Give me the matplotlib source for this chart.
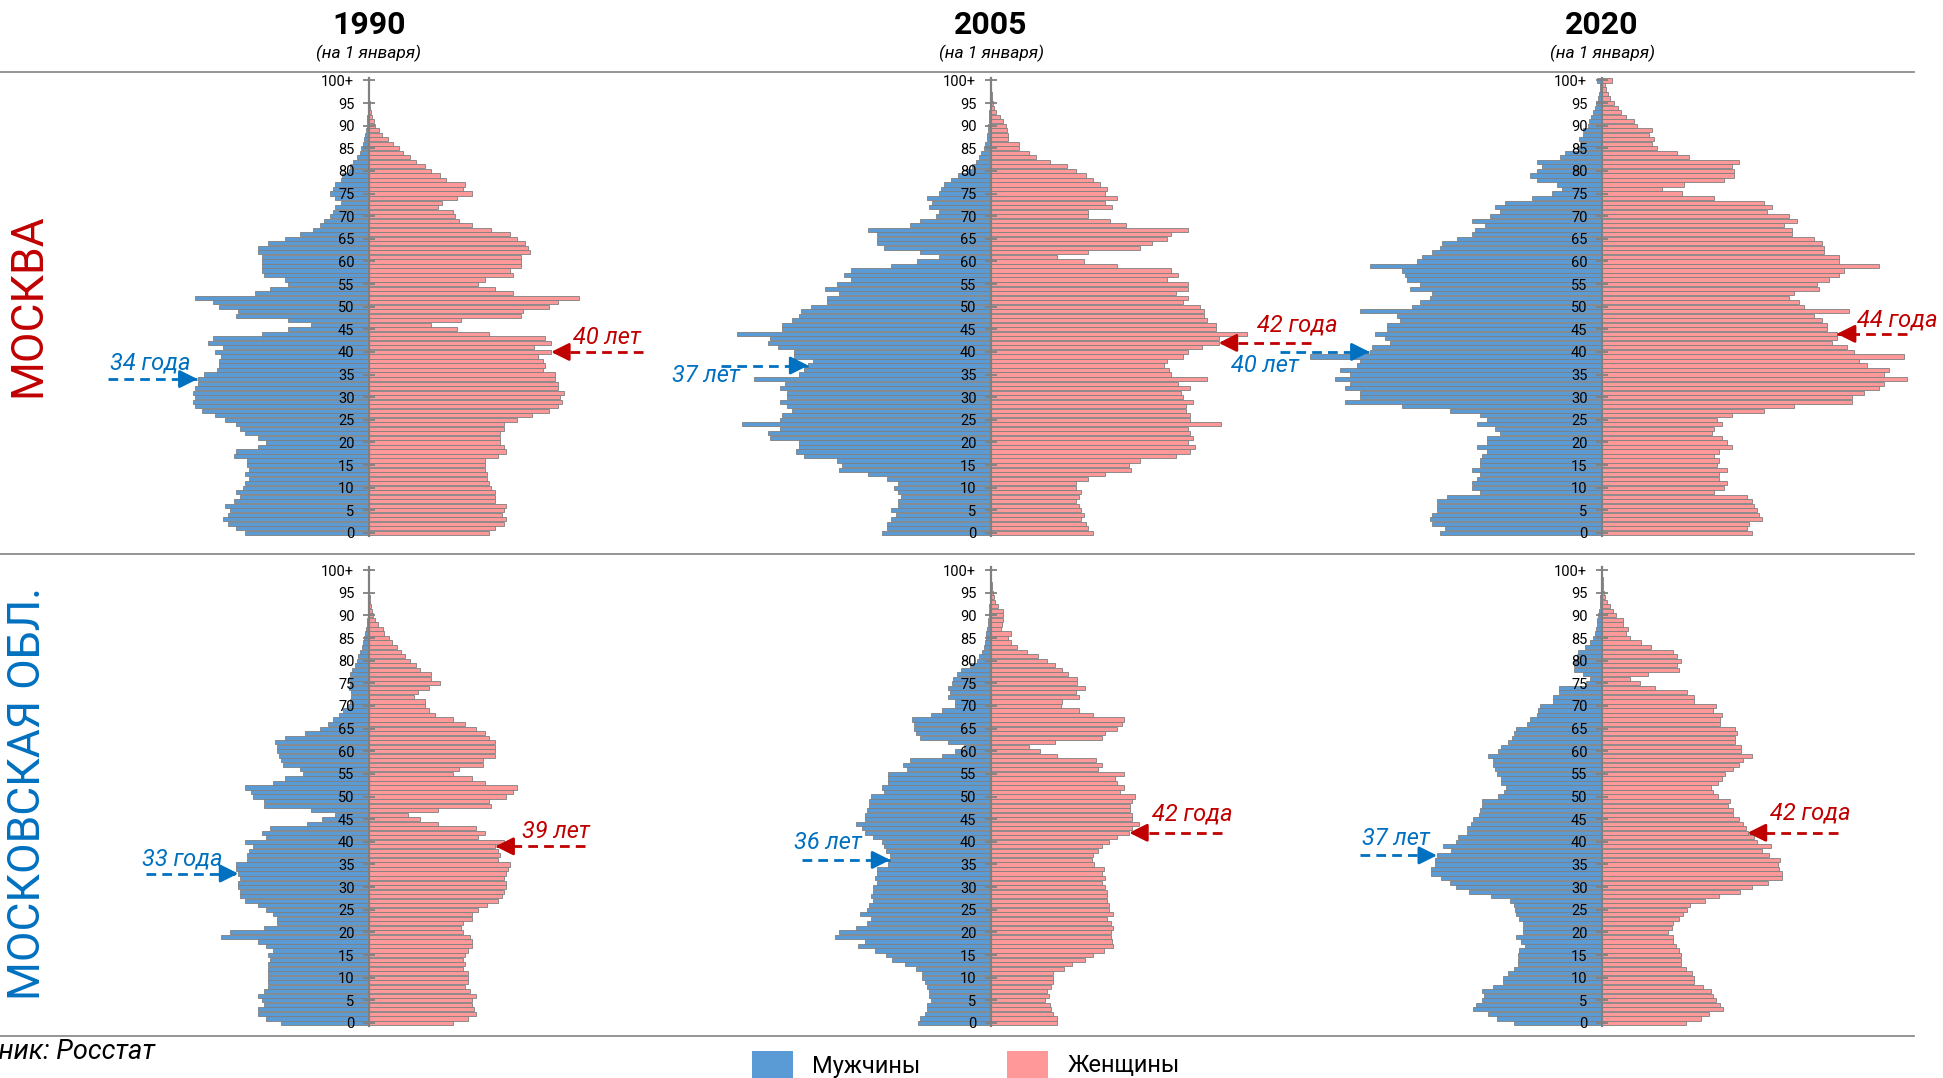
import matplotlib
matplotlib.use("Agg")
import matplotlib.pyplot as plt
import numpy as np
from matplotlib.lines import Line2D
from matplotlib.patches import Rectangle

plt.rcParams['font.family'] = ['Roboto', 'DejaVu Sans']

ages = np.arange(0, 101)
tick_ages = list(range(0, 101, 5))
tick_labels = [str(a) for a in tick_ages[:-1]] + ['100+']

# численность по однолетним возрастам, тыс. чел. (0 ... 100+)
mos1990_m = [58, 62, 66, 68, 66, 65, 67, 63, 60, 62,
             59, 58, 56, 58, 56, 57, 57, 63, 62, 52,
             48, 52, 58, 60, 62, 67, 72, 78, 81, 82,
             81, 82, 81, 80, 80, 77, 71, 70, 70, 69,
             72, 68, 75, 73, 50, 38, 27, 38, 62, 61,
             70, 73, 81, 53, 46, 38, 39, 49, 50, 50,
             50, 50, 52, 52, 47, 39, 32, 26, 23, 21,
             18, 17, 16, 13, 16, 18, 17, 16, 13, 12.5,
             9.5, 8.7, 7.3, 5.8, 4.3, 3.8, 3.0, 2.2, 1.7, 1.2,
             1.0, 0.8, 0.7, 0.5, 0.3, 0.2, 0.2, 0.1, 0.1, 0.05, 0.05]
mos1990_f = [56, 59, 63, 64, 62, 63, 64, 59, 59, 59,
             57, 56, 55, 55, 54, 54, 54, 60, 64, 63,
             61, 61, 61, 63, 63, 69, 76, 84, 88, 90,
             89, 91, 88, 88, 87, 87, 81, 82, 81, 79,
             85, 77, 85, 82, 56, 41, 29, 43, 71, 72,
             84, 88, 98, 67, 59, 51, 54, 67, 66, 71,
             71, 71, 75, 74, 73, 69, 66, 57, 48, 42,
             40, 39, 32, 34, 41, 48, 44, 45, 36, 33,
             29, 26, 22, 19, 16, 14, 11, 9, 6, 4.7,
             3, 2.2, 1.3, 0.8, 0.5, 0.3, 0.2, 0.2, 0.1, 0.1, 0.1]

mos2005_m = [46, 44, 44, 42, 40, 42, 39, 39, 38, 39,
             41, 39, 44, 52, 64, 63, 65, 79, 82, 81,
             81, 93, 94, 89, 105, 89, 88, 84, 86, 89,
             86, 86, 89, 87, 100, 81, 79, 77, 75, 83,
             83, 90, 94, 93, 107, 88, 88, 84, 81, 80,
             76, 69, 69, 64, 70, 65, 59, 62, 59, 42,
             31, 22, 30, 45, 48, 48, 48, 52, 34, 30,
             23, 22, 26, 25, 27, 22, 21, 20, 17, 14,
             10, 8, 6.3, 5.2, 4.2, 3, 2.7, 1.8, 1.5, 1.3,
             1.2, 1.0, 0.8, 0.7, 0.5, 0.3, 0.25, 0.2, 0.1, 0.07, 0.05]
mos2005_f = [43, 41, 40, 38, 39, 38, 37, 36, 37, 38,
             36, 36, 41, 48, 59, 58, 63, 78, 84, 86,
             83, 85, 84, 83, 97, 84, 84, 82, 82, 85,
             81, 80, 84, 79, 91, 76, 75, 73, 74, 81,
             83, 89, 96, 96, 108, 95, 95, 91, 90, 90,
             88, 81, 83, 78, 83, 83, 74, 79, 76, 53,
             39, 28, 41, 63, 68, 74, 76, 83, 57, 50,
             41, 41, 51, 48, 53, 48, 49, 46, 43, 40,
             36, 32, 25, 19, 16, 12, 12, 7.2, 7.2, 6.8,
             6.3, 5.2, 3.8, 2.2, 1.3, 0.8, 0.5, 0.3, 0.2, 0.2, 0.1]

mos2020_m = [65, 63, 68, 69, 68, 66, 66, 66, 62, 49,
             52, 52, 50, 49, 52, 49, 49, 48, 46, 50,
             46, 46, 41, 43, 50, 46, 49, 61, 80, 103,
             97, 97, 103, 101, 107, 101, 105, 98, 97, 117,
             93, 92, 85, 87, 91, 86, 86, 81, 82, 97,
             76, 73, 69, 68, 77, 73, 78, 79, 80, 93,
             74, 72, 68, 65, 64, 58, 52, 51, 47, 52,
             45, 41, 43, 39, 28, 20, 16, 18, 26, 29,
             26, 24, 26, 17, 15, 9.5, 8.7, 9.2, 7.8, 7.5,
             5.8, 5.3, 4.5, 3.8, 3.0, 2.5, 1.7, 1.2, 0.8, 0.8, 2.0]
mos2020_f = [60, 58, 59, 64, 63, 62, 61, 60, 58, 45,
             49, 50, 47, 47, 50, 46, 47, 45, 47, 52,
             50, 48, 44, 45, 48, 46, 52, 65, 77, 100,
             100, 105, 111, 113, 122, 113, 115, 106, 103, 121,
             101, 98, 92, 94, 94, 90, 90, 88, 85, 99,
             81, 79, 75, 77, 87, 86, 91, 95, 97, 111,
             95, 95, 89, 89, 88, 85, 76, 76, 73, 78,
             75, 66, 68, 65, 45, 32, 24, 33, 49, 53,
             53, 52, 55, 35, 30, 22, 20, 21, 19, 20,
             14, 13, 9.7, 7.8, 6.3, 4.7, 3.3, 2.5, 1.7, 1.3, 4.2]

mo1990_m = [41, 48, 52, 52, 49, 50, 52, 49, 47, 47,
            47, 47, 47, 47, 46, 47, 45, 48, 52, 69,
            65, 49, 43, 43, 45, 48, 52, 58, 60, 60,
            61, 61, 60, 61, 62, 62, 57, 57, 56, 54,
            58, 48, 50, 46, 29, 22, 16, 27, 49, 49,
            54, 55, 58, 45, 39, 31, 32, 40, 41, 42,
            43, 43, 44, 39, 30, 23, 19, 17, 14, 12,
            10, 8.7, 8.3, 8.2, 9.2, 9, 9.2, 8.7, 7.8, 6.7,
            5.7, 5, 4.2, 3.3, 2.7, 2.2, 1.7, 1.3, 1.0, 0.7,
            0.5, 0.4, 0.3, 0.2, 0.1, 0.1, 0.05, 0.05, 0.05, 0.03, 0.03]
mo1990_f = [39, 46, 50, 49, 48, 48, 50, 47, 45, 46,
            46, 46, 44, 45, 44, 45, 46, 48, 48, 47,
            44, 43, 44, 48, 48, 51, 55, 60, 62, 63,
            64, 64, 63, 64, 65, 66, 60, 61, 60, 59,
            63, 51, 54, 50, 32, 24, 18, 32, 57, 56,
            64, 67, 69, 54, 48, 39, 42, 53, 53, 59,
            59, 59, 59, 56, 54, 50, 45, 39, 31, 28,
            26, 26, 21, 23, 28, 33, 29, 29, 24, 22,
            19, 17, 15, 13, 10.5, 9.2, 7.2, 6.3, 4.2, 3,
            1.8, 1.3, 0.8, 0.5, 0.3, 0.2, 0.1, 0.1, 0.05, 0.05, 0.05]

mo2005_m = [34, 33, 31, 30, 30, 28, 29, 29, 30, 31,
            32, 32, 35, 40, 46, 49, 54, 62, 59, 73,
            71, 63, 58, 56, 61, 58, 57, 55, 56, 55,
            55, 53, 54, 53, 53, 48, 47, 47, 49, 50,
            51, 55, 59, 60, 63, 59, 59, 58, 57, 57,
            56, 50, 51, 48, 48, 48, 39, 41, 38, 23,
            17, 12.5, 20, 33, 35, 36, 36, 37, 28, 23,
            17, 17, 20, 19, 20, 18, 17.5, 16, 14, 10,
            6.7, 5.5, 4.2, 3.3, 2.8, 2.5, 2.2, 1.7, 1.3, 1.2,
            1.0, 0.8, 0.7, 0.5, 0.3, 0.25, 0.17, 0.12, 0.07, 0.05, 0.03]
mo2005_f = [31, 31, 29, 28, 27.5, 25, 27, 26, 28, 29,
            29, 29, 34, 38, 44, 47.5, 52.5, 57, 56.5, 56,
            56, 57, 56, 54, 57, 55, 55, 54, 54, 54,
            53, 52, 53, 52, 52.5, 48, 47, 47.5, 50, 52,
            55, 59, 64.5, 66, 69, 66, 66, 65, 65, 66,
            67, 60, 62, 59, 58, 62, 50, 52, 49, 31,
            23, 17.5, 30, 52, 53, 59, 61, 62, 47.5, 41,
            32.5, 33, 41, 39.5, 44, 40, 40, 36, 33, 30,
            26, 22, 17, 12, 9.5, 7.8, 9.2, 4.5, 5, 5.7,
            5.7, 5.8, 3.2, 1.7, 1.2, 0.7, 0.3, 0.25, 0.17, 0.08, 0.05]

mo2020_m = [41, 49, 53, 60, 59, 56, 55, 56, 51, 46,
            46, 44, 41, 39, 39, 39, 38.5, 36, 38, 40,
            37, 37, 37, 38.5, 40, 40.5, 41, 43, 52, 62,
            68, 71, 75, 80, 80, 78, 78, 77, 70.5, 74,
            68, 67, 63, 63, 61, 60, 57.5, 57, 56, 56,
            48.5, 45.5, 45, 47, 47, 49, 50, 51, 51, 53,
            48.5, 47, 44, 42, 41, 40, 35, 33.5, 30.5, 30,
            29, 23, 23, 20, 20, 7.5, 5.5, 9, 13, 13,
            13, 11.7, 11.3, 7.7, 5.8, 4.2, 3.3, 3, 2.5, 2.5,
            1.7, 1.3, 1, 0.8, 0.7, 0.5, 0.3, 0.25, 0.17, 0.12, 0.15]
mo2020_f = [39, 46, 50, 56.5, 55, 53, 52, 51, 47, 43,
            43, 42, 39, 37, 37, 37, 36, 34.5, 33, 33,
            31, 32.5, 33, 36, 38, 39.5, 41, 48, 54.5, 64.5,
            70, 77.5, 84, 84, 82.5, 82, 83, 78, 74.5, 79,
            72.5, 71, 68, 67, 66, 64, 61, 61, 59, 59.5,
            54, 52, 51, 54, 56, 57.5, 61, 64, 66, 70,
            65, 65, 62, 62, 63, 62, 55, 55, 56, 52,
            53, 43, 43, 39.5, 24.5, 17.5, 13, 21.5, 36, 35,
            37, 35, 33, 23, 18, 13, 11, 12, 10, 10,
            6.7, 5.3, 3.7, 2.5, 1.5, 0.8, 0.5, 0.3, 0.25, 0.17, 0.17]

years = ['1990', '2005', '2020']
regions = ['МОСКВА', 'МОСКОВСКАЯ ОБЛ.']
males = [[mos1990_m, mos2005_m, mos2020_m], [mo1990_m, mo2005_m, mo2020_m]]
females = [[mos1990_f, mos2005_f, mos2020_f], [mo1990_f, mo2005_f, mo2020_f]]

# средний возраст: (подпись, возраст) для мужчин и женщин
med_m = [[('34 года', 34), ('37 лет', 37), ('40 лет', 40)],
         [('33 года', 33), ('36 лет', 36), ('37 лет', 37)]]
med_f = [[('40 лет', 40), ('42 года', 42), ('44 года', 44)],
         [('39 лет', 39), ('42 года', 42), ('42 года', 42)]]

BLUE = '#5B9BD5'
PINK = '#FF9999'
EDGE = '#7F7F7F'
C_BLUE = '#0070C0'
C_RED = '#C00000'

W, H = 1943, 1078
fig = plt.figure(figsize=(W / 100, H / 100), dpi=100)

col_x = [369, 991, 1602]
half = 310
row_box = [(0.5031, 0.4248), (0.0485, 0.4252)]
# масштаб (пикселей на тыс. чел.) в каждой диаграмме
ppu = [[2.143, 2.372, 2.499], [2.143, 2.143, 2.143]]
# положение подписей: (текст x, текст y, хвост x) для мужчин и женщин
lab_m = [[(-102, 37.6, -122), (-120, 34.9, -114), (-135, 37.0, -129)],
         [(-87, 36.3, -104), (-76, 39.8, -88), (-96, 40.7, -113)]]
lab_f = [[(111, 43.3, 128), (129, 46.0, 135), (118, 47.1, 122)],
         [(87, 42.3, 101), (94, 46.1, 108), (97, 46.4, 110)]]


def arrow(ax, tail_x, tip_x, y, color):
    ax.plot([tail_x, tip_x], [y, y], color=color, lw=2, ls=(0, (3.5, 2.2)),
            clip_on=False, zorder=5, solid_capstyle='butt')
    d = np.sign(tip_x - tail_x)
    ax.annotate('', xy=(tip_x, y), xytext=(tip_x - d * 6, y),
                arrowprops=dict(arrowstyle='-|>,head_length=0.6,head_width=0.3',
                                color=color, lw=2, shrinkA=0, shrinkB=0,
                                mutation_scale=18),
                annotation_clip=False, zorder=6)


for r in range(2):
    for c in range(3):
        lim = half / ppu[r][c]
        ax = fig.add_axes([(col_x[c] - half) / W, row_box[r][0], 2 * half / W, row_box[r][1]])
        m = np.array(males[r][c])
        f = np.array(females[r][c])
        ax.barh(ages, -m, height=0.92, color=BLUE, edgecolor=EDGE, linewidth=0.6, clip_on=False)
        ax.barh(ages, f, height=0.92, color=PINK, edgecolor=EDGE, linewidth=0.6, clip_on=False)
        ax.set_xlim(-lim, lim)
        ax.set_ylim(-0.6, 100.6)
        for s in ['top', 'right', 'bottom']:
            ax.spines[s].set_visible(False)
        ax.spines['left'].set_position(('data', 0))
        ax.spines['left'].set_color('#808080')
        ax.spines['left'].set_linewidth(1.6)
        ax.set_xticks([])
        ax.set_yticks(tick_ages)
        ax.set_yticklabels(tick_labels, fontsize=10.5)
        ax.tick_params(axis='y', direction='inout', length=9, width=1.3, color='#808080', pad=6)
        ax.patch.set_alpha(0)

        tm, am = med_m[r][c]
        tx, ty, tail = lab_m[r][c]
        arrow(ax, tail, -m[am], am, C_BLUE)
        ax.text(tx, ty, tm, color=C_BLUE, fontsize=17, style='italic', ha='center', va='center')

        tf, af = med_f[r][c]
        tx, ty, tail = lab_f[r][c]
        arrow(ax, tail, f[af], af, C_RED)
        ax.text(tx, ty, tf, color=C_RED, fontsize=17, style='italic', ha='center', va='center')

for c in range(3):
    fig.text(col_x[c] / W, 1 - 25 / H, years[c], fontsize=23, fontweight='bold', ha='center', va='center')
    fig.text(col_x[c] / W, 1 - 53 / H, '(на 1 января)', fontsize=12.5, style='italic', ha='center', va='center')

for yy in [72, 554, 1036]:
    fig.add_artist(Line2D([0, 1914 / W], [1 - yy / H, 1 - yy / H], transform=fig.transFigure,
                          color='#8C8C8C', lw=1.3))

fig.text(28 / W, 1 - 305 / H, regions[0], rotation=90, color=C_RED, fontsize=32, ha='center', va='center')
fig.text(28 / W, 1 - 794 / H, regions[1], rotation=90, color=C_BLUE, fontsize=32, ha='center', va='center')

# в исходнике подпись источника обрезана левым краем
fig.text(155 / W, 1 - 1052 / H, 'Источник: Росстат', fontsize=19.5, style='italic', ha='right', va='center')

fig.add_artist(Rectangle((752 / W, 1 - 1092 / H), 41 / W, 41 / H, transform=fig.transFigure,
                         facecolor=BLUE, edgecolor='none'))
fig.text(812 / W, 1 - 1066 / H, 'Мужчины', fontsize=17, ha='left', va='center')
fig.add_artist(Rectangle((1007 / W, 1 - 1092 / H), 41 / W, 41 / H, transform=fig.transFigure,
                         facecolor=PINK, edgecolor='none'))
fig.text(1068 / W, 1 - 1066 / H, 'Женщины', fontsize=17, ha='left', va='center')

fig.savefig('out.png', dpi=100)
